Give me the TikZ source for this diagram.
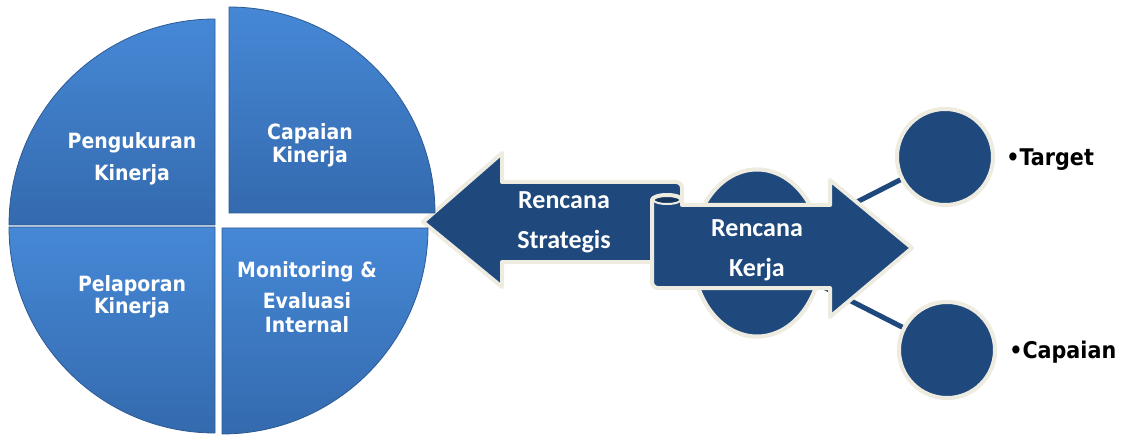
\documentclass[tikz,border=0pt]{standalone}
\usepackage{fontspec}
\usetikzlibrary{shapes.geometric}
\newfontfamily\piefont{DejaVu Sans}[BoldFont={DejaVu Sans Bold}, BoldFeatures={FakeStretch=0.9}]
\newfontfamily\arrfont{Carlito}[BoldFont={Carlito Bold}]
\definecolor{pietop}{RGB}{70,136,214}
\definecolor{piebot}{RGB}{52,106,174}
\definecolor{pieedge}{RGB}{44,90,148}
\definecolor{dkblue}{RGB}{31,73,125}
\definecolor{cream}{RGB}{238,236,225}
\definecolor{rollin}{RGB}{23,55,94}
\tikzset{
  quad/.style={top color=pietop, bottom color=piebot, draw=pieedge, line width=0.6pt},
  pietext/.style={text=white, align=center, inner sep=0pt, font=\fontsize{15.75}{19}\piefont\bfseries\selectfont},
  arrowbody/.style={fill=dkblue, draw=cream, line width=3pt, line join=round},
  arrtext/.style={text=white, align=center, inner sep=0pt, font=\fontsize{19.5}{30}\arrfont\bfseries\selectfont},
  bubble/.style={circle, fill=dkblue, draw=cream, line width=3pt, minimum size=72pt, inner sep=0pt},
  oval/.style={ellipse, fill=dkblue, draw=cream, line width=3pt, minimum width=96.75pt, minimum height=125.25pt, inner sep=0pt},
  link/.style={draw=dkblue, line width=3.8pt},
  lbl/.style={text=black, inner sep=0pt, anchor=base west, font=\fontsize{17.25}{20}\piefont\bfseries\selectfont}
}
\begin{document}
\begin{tikzpicture}[x=0.75pt,y=0.75pt]
\useasboundingbox (0,0) rectangle (1124,436);
% nodes placed first so connectors can refer to them
\path (757,183) node[oval] (ell) {};
\path (945,279) node[bubble] (c1) {};
\path (947,86) node[bubble] (c2) {};
% connectors
\path[link] (ell) -- (c1);
\path[link] (ell) -- (c2);
% ellipse and circles over connectors
\node[oval] at (ell.center) {};
\node[bubble] at (c1.center) {};
\node[bubble] at (c2.center) {};
% left arrow
\path[arrowbody] (423,214) -- (502,283) -- (502,254) -- (676,254)
  arc[start angle=90, end angle=0, radius=6] -- (682,174) -- (502,174)
  -- (502,149) -- cycle;
% right arrow with roll
\path[arrowbody] (652,236) -- (652,154) arc[start angle=180, end angle=270, radius=6]
  -- (830,148) -- (830,119) -- (912,188) -- (830,256) -- (830,231) -- (682,231)
  -- (682,236) arc[start angle=0, end angle=180, x radius=15, y radius=5] -- cycle;
\path[fill=rollin, draw=cream, line width=1.5pt] (667,236) ellipse[x radius=13.5, y radius=4];
% pie quadrants
\path[quad] (215,211) -- (9,211) arc[start angle=180, end angle=90, radius=206] -- cycle;
\path[quad] (229,223) -- (229,429) arc[start angle=90, end angle=0, radius=206] -- cycle;
\path[quad] (215,209) -- (9,209) arc[start angle=180, end angle=270, radius=206] -- cycle;
\path[quad] (222,208) -- (428,208) arc[start angle=0, end angle=-90, radius=206] -- cycle;
% pie texts
\node[pietext] (t1) at (132,277) {Pengukuran\\[5pt]Kinerja};
\node[pietext] (t2) at (310,291) {Capaian\\[-1.75pt]Kinerja};
\node[pietext] (t3) at (132,139) {Pelaporan\\[-2.5pt]Kinerja};
\node[pietext] (t4) at (307,139) {Monitoring \&\\[4.25pt]Evaluasi\\[-1pt]Internal};
% arrow texts
\node[arrtext] (a1) at (564,214) {Rencana\\Strategis};
\node[arrtext] (a2) at (757,186) {Rencana\\Kerja};
% labels
\node[lbl] (l1) at (1006,270) {•Target};
\node[lbl] (l2) at (1009,78) {•Capaian};
\end{tikzpicture}
\end{document}
